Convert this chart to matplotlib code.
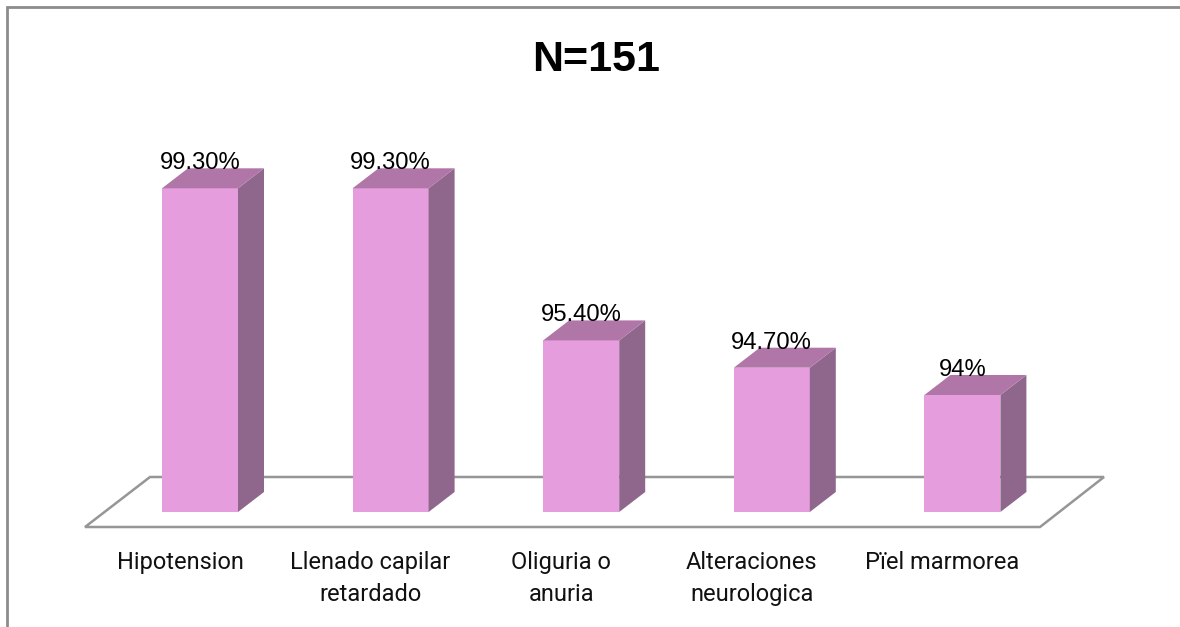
import matplotlib
matplotlib.use("Agg")
import matplotlib.pyplot as plt
from matplotlib.patches import Polygon

categories = ["Hipotension", "Llenado capilar\nretardado", "Oliguria o\nanuria", "Alteraciones\nneurologica", "Pïel marmorea"]
values = [99.3, 99.3, 95.4, 94.7, 94.0]
value_labels = ["99.30%", "99.30%", "95.40%", "94.70%", "94%"]
title = "N=151"

W, H = 1180, 627
fig = plt.figure(figsize=(W / 100, H / 100), dpi=100, facecolor="white")
plt.rcParams["font.family"] = ["Liberation Sans", "DejaVu Sans"]
ax = fig.add_axes([0, 0, 1, 1])

# scale: category i -> px 200+190.6*i ; value v -> py 512-(v-91)*39
PX_PER_CAT = 190.6
PX_PER_VAL = 39.0
BASE = 91.0
ax.set_xlim(-200 / PX_PER_CAT, (W - 200) / PX_PER_CAT)
ax.set_ylim(BASE - (H - 512) / PX_PER_VAL, BASE + 512 / PX_PER_VAL)
ax.axis("off")

def px(dx):
    return dx / PX_PER_CAT
def py(dy):
    return dy / PX_PER_VAL

# chart frame: only the left and top edges are visible
ax.plot([0.0059, 0.0059, 1.0], [0.0, 0.9888, 0.9888], transform=ax.transAxes,
        color="#8c8c8c", lw=2.0, solid_joinstyle="miter", zorder=0)

# floor
left = -px(115)
front_y = BASE - py(15)
back_y = BASE + py(35)
floor = Polygon([(left, front_y), (left + px(65), back_y), (left + px(1019), back_y),
                 (left + px(955), front_y)], closed=True, fc="white", ec="#969696", lw=1.8,
                joinstyle="miter", zorder=1)
ax.add_patch(floor)

bar_w = px(76)
dx, dy = px(26), py(20)
for i, v in enumerate(values):
    l, r = i - bar_w / 2, i + bar_w / 2
    ax.bar(i, v - BASE, bottom=BASE, width=bar_w, color="#E69DDE", zorder=3)
    ax.add_patch(Polygon([(r, BASE), (r + dx, BASE + dy), (r + dx, v + dy), (r, v)],
                         closed=True, fc="#90678C", ec="none", zorder=3))
    ax.add_patch(Polygon([(l, v), (l + dx, v + dy), (r + dx, v + dy), (r, v)],
                         closed=True, fc="#B176A8", ec="none", zorder=3))
    ax.text(i, v + py(19), value_labels[i], ha="center", va="baseline", fontsize=17.2,
            color="black", zorder=5)
    ax.text(i - px(20), BASE - py(39), categories[i], ha="center", va="top", fontsize=17,
            family="Roboto", color="#111111", linespacing=1.5, zorder=5)

ax.text(0.505, 0.904, title, transform=ax.transAxes, ha="center", va="center",
        fontsize=31, fontweight="bold", color="black")

fig.savefig("out.png", dpi=100)
